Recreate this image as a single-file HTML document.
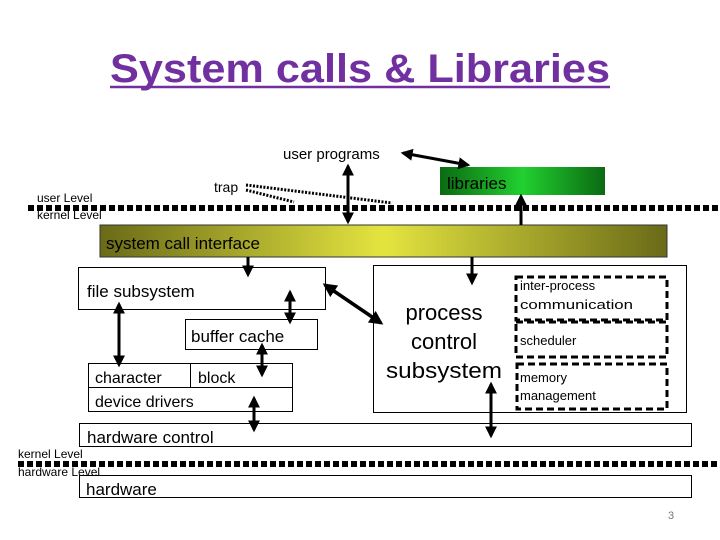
<!DOCTYPE html>
<html><head><meta charset="utf-8"><style>
html,body{margin:0;padding:0;background:#fff;width:720px;height:540px;overflow:hidden}
svg{display:block}
text{font-family:"Liberation Sans","DejaVu Sans",sans-serif;fill:#000}
</style></head><body>
<svg width="720" height="540" viewBox="0 0 720 540" xmlns="http://www.w3.org/2000/svg">
<defs>
<linearGradient id="lib" x1="0" x2="1"><stop offset="0" stop-color="#0b6a12"/><stop offset="0.5" stop-color="#22d030"/><stop offset="1" stop-color="#0b6a12"/></linearGradient>
<linearGradient id="sci" x1="0" x2="1"><stop offset="0" stop-color="#6a6a18"/><stop offset="0.5" stop-color="#e4e440"/><stop offset="1" stop-color="#6a6a18"/></linearGradient>
<marker id="a" viewBox="0 0 10 10" refX="8" refY="5" markerWidth="4" markerHeight="4" orient="auto-start-reverse"><path d="M0,0 L10,5 L0,10 z" fill="#000"/></marker>
</defs>
<text x="110" y="82" font-size="40" font-weight="bold" style="fill:#7030A0" textLength="500" lengthAdjust="spacingAndGlyphs">System calls &amp; Libraries</text>
<line x1="110" y1="87" x2="610" y2="87" stroke="#7030A0" stroke-width="2.5"/>

<text x="283" y="159" font-size="15">user programs</text>
<text x="214" y="192" font-size="14">trap</text>
<line x1="246" y1="185" x2="392" y2="203" stroke="#000" stroke-width="3" stroke-dasharray="2,1.5"/>
<line x1="246" y1="190" x2="294" y2="202" stroke="#000" stroke-width="3" stroke-dasharray="2,1.5"/>
<rect x="440" y="167" width="165" height="28" fill="url(#lib)"/>
<text x="447" y="189" font-size="17">libraries</text>
<text x="37" y="202" font-size="12">user Level</text>
<line x1="28" y1="208" x2="720" y2="208" stroke="#000" stroke-width="6" stroke-dasharray="6,3"/>
<text x="37" y="219" font-size="12">kernel Level</text>

<rect x="100" y="225" width="567" height="32" fill="url(#sci)" stroke="#333" stroke-width="1"/>
<text x="106" y="249" font-size="17">system call interface</text>

<rect x="78.5" y="267.5" width="247" height="42" fill="#fff" stroke="#000"/>
<text x="87" y="297" font-size="17">file subsystem</text>
<rect x="373.5" y="265.5" width="313" height="147" fill="#fff" stroke="#000"/>
<rect x="185.5" y="319.5" width="132" height="30" fill="#fff" stroke="#000"/>
<text x="191" y="342" font-size="17">buffer cache</text>
<rect x="88.5" y="363.5" width="204" height="48" fill="#fff" stroke="#000"/>
<line x1="88" y1="387.5" x2="292" y2="387.5" stroke="#000"/>
<line x1="190.5" y1="363" x2="190.5" y2="387" stroke="#000"/>
<text x="95" y="383" font-size="16">character</text>
<text x="198" y="383" font-size="16">block</text>
<text x="95" y="407" font-size="16">device drivers</text>

<text x="444" y="320" font-size="22" text-anchor="middle">process</text>
<text x="444" y="349" font-size="22" text-anchor="middle">control</text>
<text x="444" y="378" font-size="22" text-anchor="middle" textLength="116" lengthAdjust="spacingAndGlyphs">subsystem</text>
<g fill="none" stroke="#000" stroke-width="3" stroke-dasharray="7,4">
<rect x="516" y="277" width="151" height="43"/>
<rect x="516" y="322" width="151" height="35"/>
<rect x="517" y="364" width="150" height="45"/>
</g>
<text x="520" y="290" font-size="13">inter-process</text>
<text x="520" y="309" font-size="13" textLength="113" lengthAdjust="spacingAndGlyphs">communication</text>
<text x="520" y="345" font-size="13">scheduler</text>
<text x="520" y="382" font-size="13">memory</text>
<text x="520" y="400" font-size="13">management</text>

<rect x="79.5" y="423.5" width="612" height="23" fill="#fff" stroke="#000"/>
<text x="87" y="443" font-size="17">hardware control</text>
<text x="18" y="458" font-size="12">kernel Level</text>
<line x1="18" y1="464" x2="720" y2="464" stroke="#000" stroke-width="6" stroke-dasharray="6,3"/>
<text x="18" y="476" font-size="12">hardware Level</text>
<rect x="79.5" y="475.5" width="612" height="22" fill="#fff" stroke="#000"/>
<text x="86" y="495" font-size="17">hardware</text>
<text x="668" y="519" font-size="11" style="fill:#777">3</text>

<!-- arrows on top -->
<line x1="403" y1="153" x2="468" y2="165" stroke="#000" stroke-width="3" marker-start="url(#a)" marker-end="url(#a)"/>
<line x1="348" y1="166" x2="348" y2="222" stroke="#000" stroke-width="3" marker-start="url(#a)" marker-end="url(#a)"/>
<line x1="521" y1="225" x2="521" y2="196" stroke="#000" stroke-width="3" marker-end="url(#a)"/>
<line x1="248" y1="257" x2="248" y2="275" stroke="#000" stroke-width="3" marker-end="url(#a)"/>
<line x1="472" y1="257" x2="472" y2="283" stroke="#000" stroke-width="3" marker-end="url(#a)"/>
<line x1="119" y1="304" x2="119" y2="365" stroke="#000" stroke-width="3" marker-start="url(#a)" marker-end="url(#a)"/>
<line x1="290" y1="292" x2="290" y2="322" stroke="#000" stroke-width="3" marker-start="url(#a)" marker-end="url(#a)"/>
<line x1="262" y1="345" x2="262" y2="375" stroke="#000" stroke-width="3" marker-start="url(#a)" marker-end="url(#a)"/>
<line x1="254" y1="398" x2="254" y2="430" stroke="#000" stroke-width="3" marker-start="url(#a)" marker-end="url(#a)"/>
<line x1="491" y1="384" x2="491" y2="436" stroke="#000" stroke-width="3" marker-start="url(#a)" marker-end="url(#a)"/>
<line x1="325" y1="285" x2="381" y2="323" stroke="#000" stroke-width="3.5" marker-start="url(#a)" marker-end="url(#a)"/>
</svg>
</body></html>
